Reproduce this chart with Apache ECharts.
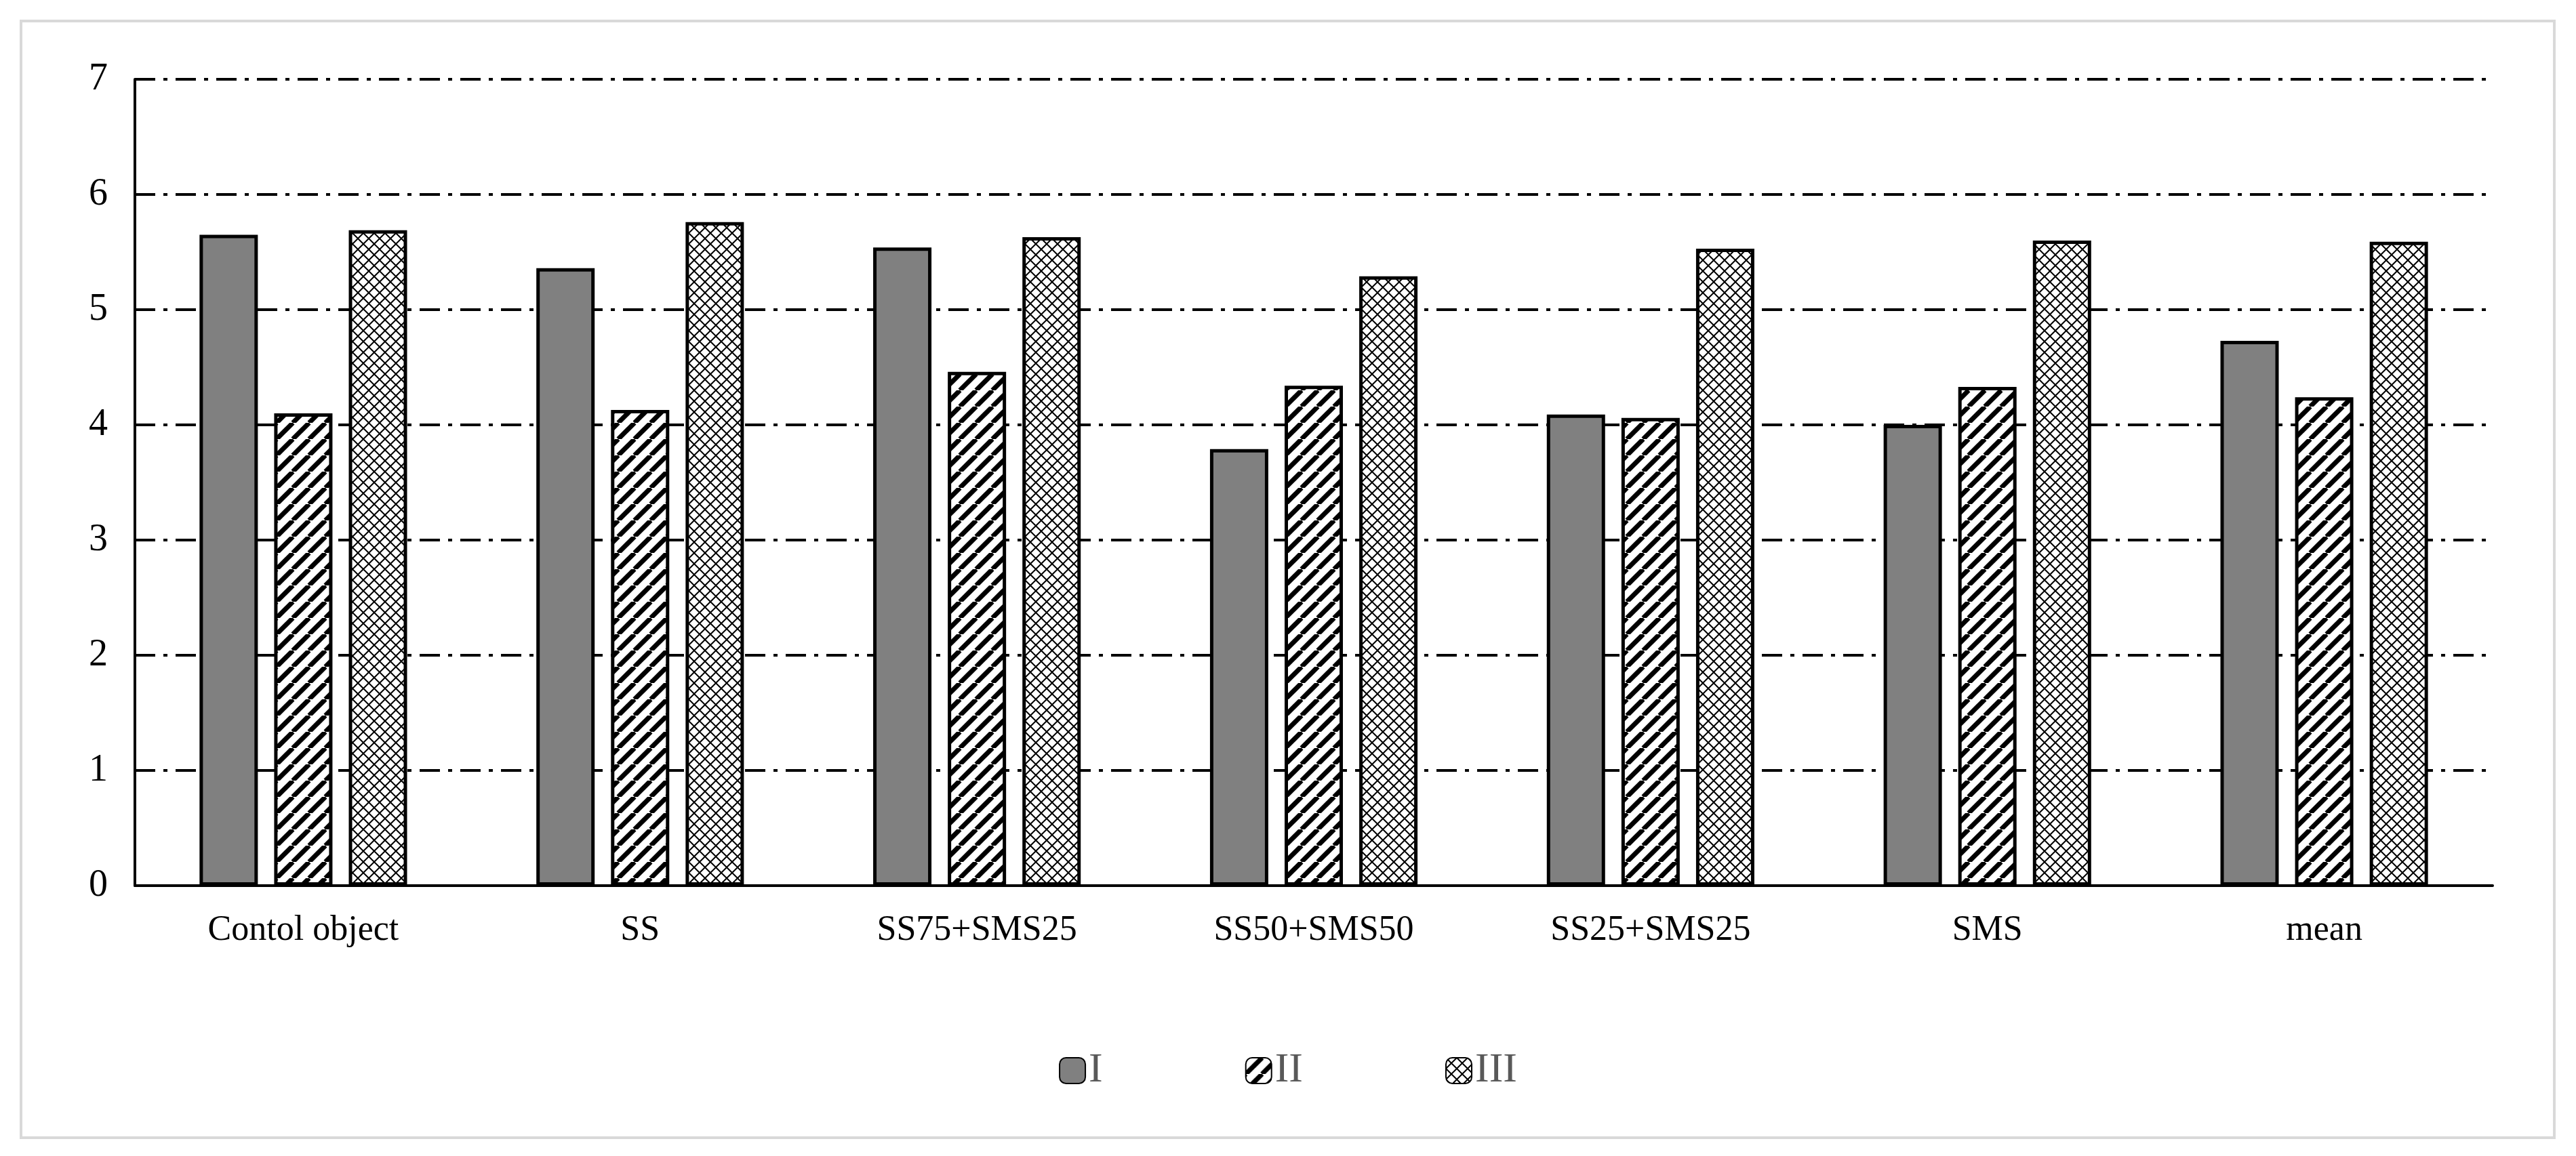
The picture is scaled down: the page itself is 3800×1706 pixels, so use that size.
<!DOCTYPE html>
<html><head><meta charset="utf-8">
<script src="https://cdn.jsdelivr.net/npm/echarts@6/dist/echarts.min.js"></script>
<style>
html,body{margin:0;padding:0;background:#fff;}
#frame{position:absolute;left:29px;top:29px;width:3733px;height:1644px;border:4px solid #d9d9d9;}
#chart{width:3800px;height:1706px;}
</style></head>
<body>
<div id="frame"></div>
<div id="chart"></div>
<script>
// ---- data ----
const categories = ['Contol object', 'SS', 'SS75+SMS25', 'SS50+SMS50', 'SS25+SMS25', 'SMS', 'mean'];
const seriesI = [5.65, 5.36, 5.54, 3.79, 4.09, 4.0, 4.73];
const seriesII = [4.1, 4.13, 4.46, 4.34, 4.06, 4.33, 4.24];
const seriesIII = [5.69, 5.76, 5.63, 5.29, 5.53, 5.6, 5.59];
const yTicks = [0, 7, 1];

// pattern builders
function stripePattern() {
  const c = document.createElement('canvas');
  c.width = 24; c.height = 24;
  const g = c.getContext('2d');
  g.fillStyle = '#fff'; g.fillRect(0, 0, 24, 24);
  g.strokeStyle = '#000'; g.lineWidth = 7;
  for (let k = -24; k <= 48; k += 24) {
    g.beginPath(); g.moveTo(k, 24); g.lineTo(k + 24, 0); g.stroke();
  }
  return c;
}
function checkPattern() {
  const c = document.createElement('canvas');
  c.width = 16; c.height = 16;
  const g = c.getContext('2d');
  g.fillStyle = '#fff'; g.fillRect(0, 0, 16, 16);
  g.strokeStyle = '#000'; g.lineWidth = 2;
  g.beginPath();
  g.moveTo(0, 0); g.lineTo(16, 16);
  g.moveTo(16, 0); g.lineTo(0, 16);
  g.stroke();
  return c;
}

const chart = echarts.init(document.getElementById('chart'));
const font = 'Liberation Serif';
const bar = (name, data, color) => ({
  name, type: 'bar', data,
  barWidth: 86, barGap: '28%',
  itemStyle: { color, borderColor: '#000', borderWidth: 5 }
});

chart.setOption({
  animation: false,
  textStyle: { fontFamily: font },
  grid: { left: 199, right: 123, top: 117, bottom: 399 },
  legend: {
    bottom: 90, left: 'center', itemGap: 210,
    itemWidth: 38, itemHeight: 38,
    textStyle: { fontFamily: font, fontSize: 62, color: '#595959' },
    data: ['I', 'II', 'III']
  },
  xAxis: {
    type: 'category', data: categories,
    axisLine: { lineStyle: { color: '#000', width: 4 } },
    axisTick: { show: false },
    axisLabel: { fontFamily: font, fontSize: 52, color: '#000', margin: 40 }
  },
  yAxis: {
    type: 'value', min: yTicks[0], max: yTicks[1], interval: yTicks[2],
    axisLine: { show: true, lineStyle: { color: '#000', width: 4 } },
    axisLabel: { fontFamily: font, fontSize: 56, color: '#000', margin: 40 },
    splitLine: { lineStyle: { color: '#000', width: 4, type: [30, 12, 6, 12] } }
  },
  series: [
    bar('I', seriesI, '#808080'),
    bar('II', seriesII, { image: stripePattern(), repeat: 'repeat' }),
    bar('III', seriesIII, { image: checkPattern(), repeat: 'repeat' })
  ]
});
</script>
</body></html>
